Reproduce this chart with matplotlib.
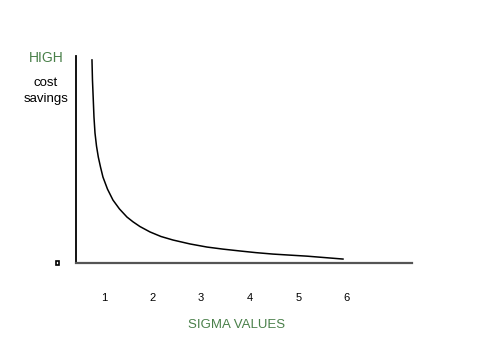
import matplotlib
matplotlib.use('Agg')
import matplotlib.pyplot as plt
from matplotlib.patches import Rectangle

plt.rcParams['font.family'] = ['Liberation Sans', 'DejaVu Sans']

# curve: sigma level vs. relative cost savings
sigma = [0.753, 0.763, 0.780, 0.794, 0.815, 0.846, 0.883, 0.928, 0.979,
         1.072, 1.185, 1.319, 1.473, 1.597, 1.741, 1.947, 2.173, 2.42,
         2.77, 3.12, 3.449, 3.8, 4.128, 4.48, 4.827, 5.18, 5.55, 5.92]
savings = [98.1, 88.4, 78.7, 70.5, 62.8, 56.5, 51.2, 46.4, 41.5,
           35.7, 30.4, 26.1, 22.2, 19.9, 17.6, 15.0, 12.8, 11.1,
           9.2, 7.7, 6.7, 5.8, 5.0, 4.3, 3.8, 3.3, 2.6, 1.9]

tick_pos = [1, 2, 3, 4, 5, 6]
tick_labels = ['1', '2', '3', '4', '5', '6']

green = '#4a804a'

fig = plt.figure(figsize=(4.81, 3.61), dpi=100)
ax = fig.add_axes([0.158, 0.2715, 0.6985, 0.5734])

ax.plot(sigma, savings, color='black', linewidth=1.1)

ax.set_xlim(0.424, 7.34)
ax.set_ylim(0, 100)

for s in ['top', 'right']:
    ax.spines[s].set_visible(False)
ax.spines['left'].set_color('black')
ax.spines['left'].set_linewidth(1.3)
ax.spines['bottom'].set_color('#555555')
ax.spines['bottom'].set_linewidth(1.6)

ax.set_yticks([])
ax.set_xticks(tick_pos)
ax.set_xticklabels(tick_labels, fontsize=8)
ax.tick_params(axis='x', length=0, pad=21.5)

fig.text(46 / 481, 1 - 58 / 361, 'HIGH', color=green, fontsize=10,
         ha='center', va='center')
fig.text(46 / 481, 1 - 83 / 361, 'cost', color='black', fontsize=9.5,
         ha='center', va='center')
fig.text(46 / 481, 1 - 99 / 361, 'savings', color='black', fontsize=9.5,
         ha='center', va='center')
fig.text(237 / 481, 1 - 325 / 361, 'SIGMA VALUES', color=green, fontsize=9.5,
         ha='center', va='center')

# little square marker left of the origin
fig.patches.append(Rectangle((55.5 / 481, 1 - 265 / 361), 3 / 481, 4 / 361,
                             transform=fig.transFigure, facecolor='white',
                             edgecolor='black', linewidth=1.2))

fig.savefig('out.png', dpi=100)
